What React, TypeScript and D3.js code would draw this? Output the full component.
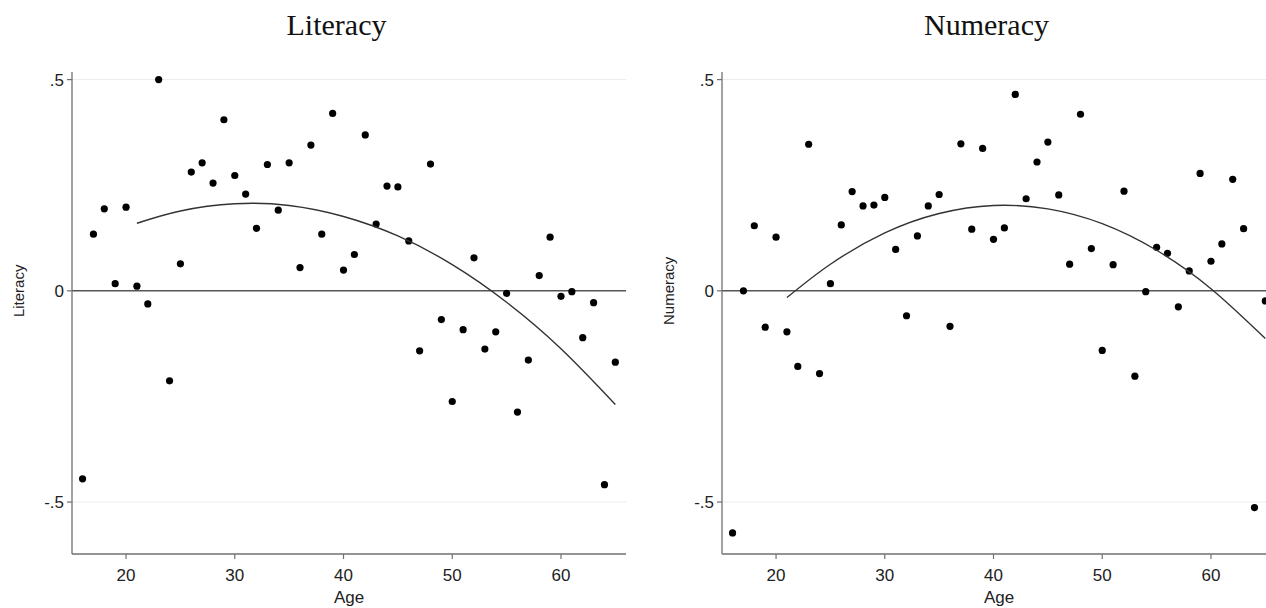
import React from "react";
import * as d3 from "d3";

const ages = [16,17,18,19,20,21,22,23,24,25,26,27,28,29,30,31,32,33,34,35,36,37,38,39,40,41,42,43,44,45,46,47,48,49,50,51,52,53,54,55,56,57,58,59,60,61,62,63,64,65];

const literacy = [-0.445,0.134,0.194,0.017,0.198,0.011,-0.031,0.500,-0.213,0.064,0.281,0.303,0.255,0.405,0.273,0.229,0.148,0.299,0.191,0.303,0.055,0.345,0.134,0.420,0.049,0.086,0.369,0.158,0.248,0.246,0.118,-0.142,0.300,-0.068,-0.262,-0.092,0.078,-0.138,-0.097,-0.006,-0.287,-0.164,0.036,0.127,-0.013,-0.002,-0.111,-0.028,-0.459,-0.169];

const numeracy = [-0.573,0.000,0.154,-0.086,0.127,-0.097,-0.179,0.347,-0.196,0.017,0.156,0.235,0.201,0.203,0.221,0.098,-0.059,0.130,0.201,0.228,-0.084,0.348,0.146,0.337,0.122,0.149,0.465,0.218,0.305,0.352,0.227,0.063,0.418,0.100,-0.141,0.062,0.236,-0.202,-0.002,0.103,0.089,-0.038,0.047,0.278,0.070,0.111,0.264,0.147,-0.513,-0.024];

const fitAges = [21,25,30,35,40,45,50,55,60,65];
const literacyFit = [0.160,0.189,0.206,0.202,0.176,0.130,0.062,-0.027,-0.137,-0.269];
const numeracyFit = [-0.016,0.063,0.137,0.183,0.202,0.194,0.159,0.096,0.005,-0.113];

const xTicks = [20,30,40,50,60];
const yTicks = [0.5,0,-0.5];
const yTickLabels = [".5","0","-.5"];

const panels = [
  { title: "Literacy", values: literacy, fit: literacyFit, offset: 0 },
  { title: "Numeracy", values: numeracy, fit: numeracyFit, offset: 650 },
];

const x = d3.scaleLinear().domain([15.03, 65.98]).range([72, 626]);
const y = d3.scaleLinear().domain([-0.623, 0.518]).range([554, 72]);

const sans = "'Liberation Sans', Arial, sans-serif";
const serif = "'Liberation Serif', 'Times New Roman', serif";

function Panel({ title, values, fit, offset }: { title: string; values: number[]; fit: number[]; offset: number }) {
  const line = d3
    .line<number>()
    .x((_, i) => x(fitAges[i]))
    .y((d) => y(d))
    .curve(d3.curveNatural);
  const [x0, x1] = x.range();
  const [yb, yt] = y.range();
  return (
    <g transform={`translate(${offset},0)`}>
      <text x={336.5} y={35} textAnchor="middle" fontFamily={serif} fontSize={30} fill="#111">
        {title}
      </text>
      {/* gridlines */}
      {yTicks.filter((t) => t !== 0).map((t) => (
        <line key={t} x1={x0} x2={x1} y1={y(t)} y2={y(t)} stroke="#ebebeb" strokeWidth={1} />
      ))}
      {/* zero reference line */}
      <line x1={x0} x2={x1} y1={y(0)} y2={y(0)} stroke="#555" strokeWidth={1.6} />
      {/* axes */}
      <line x1={x0} x2={x0} y1={yt} y2={yb} stroke="#707070" strokeWidth={1.3} />
      <line x1={x0} x2={x1} y1={yb} y2={yb} stroke="#707070" strokeWidth={1.3} />
      {yTicks.map((t, i) => (
        <g key={t}>
          <line x1={x0 - 5} x2={x0} y1={y(t)} y2={y(t)} stroke="#707070" strokeWidth={1.2} />
          <text x={x0 - 8} y={y(t)} dy="0.35em" textAnchor="end" fontFamily={sans} fontSize={17} fill="#222">
            {yTickLabels[i]}
          </text>
        </g>
      ))}
      {xTicks.map((t) => (
        <g key={t}>
          <line x1={x(t)} x2={x(t)} y1={yb} y2={yb + 5} stroke="#707070" strokeWidth={1.2} />
          <text x={x(t)} y={yb + 27} textAnchor="middle" fontFamily={sans} fontSize={17} fill="#222">
            {t}
          </text>
        </g>
      ))}
      <text x={349} y={603} textAnchor="middle" fontFamily={sans} fontSize={17} fill="#222">
        Age
      </text>
      <text
        transform={`translate(24,${y(0)}) rotate(-90)`}
        textAnchor="middle"
        fontFamily={sans}
        fontSize={15}
        fill="#222"
      >
        {title}
      </text>
      {values.map((v, i) => (
        <circle key={i} cx={x(ages[i])} cy={y(v)} r={3.6} fill="#000" />
      ))}
      <path d={line(fit) || ""} fill="none" stroke="#333" strokeWidth={1.4} />
    </g>
  );
}

export default function App() {
  return (
    <svg
      width={1266}
      height={608}
      style={{ position: "absolute", left: 0, top: 0, background: "#fff" }}
    >
      <rect width={1266} height={608} fill="#fff" />
      {panels.map((p) => (
        <Panel key={p.title} {...p} />
      ))}
    </svg>
  );
}
